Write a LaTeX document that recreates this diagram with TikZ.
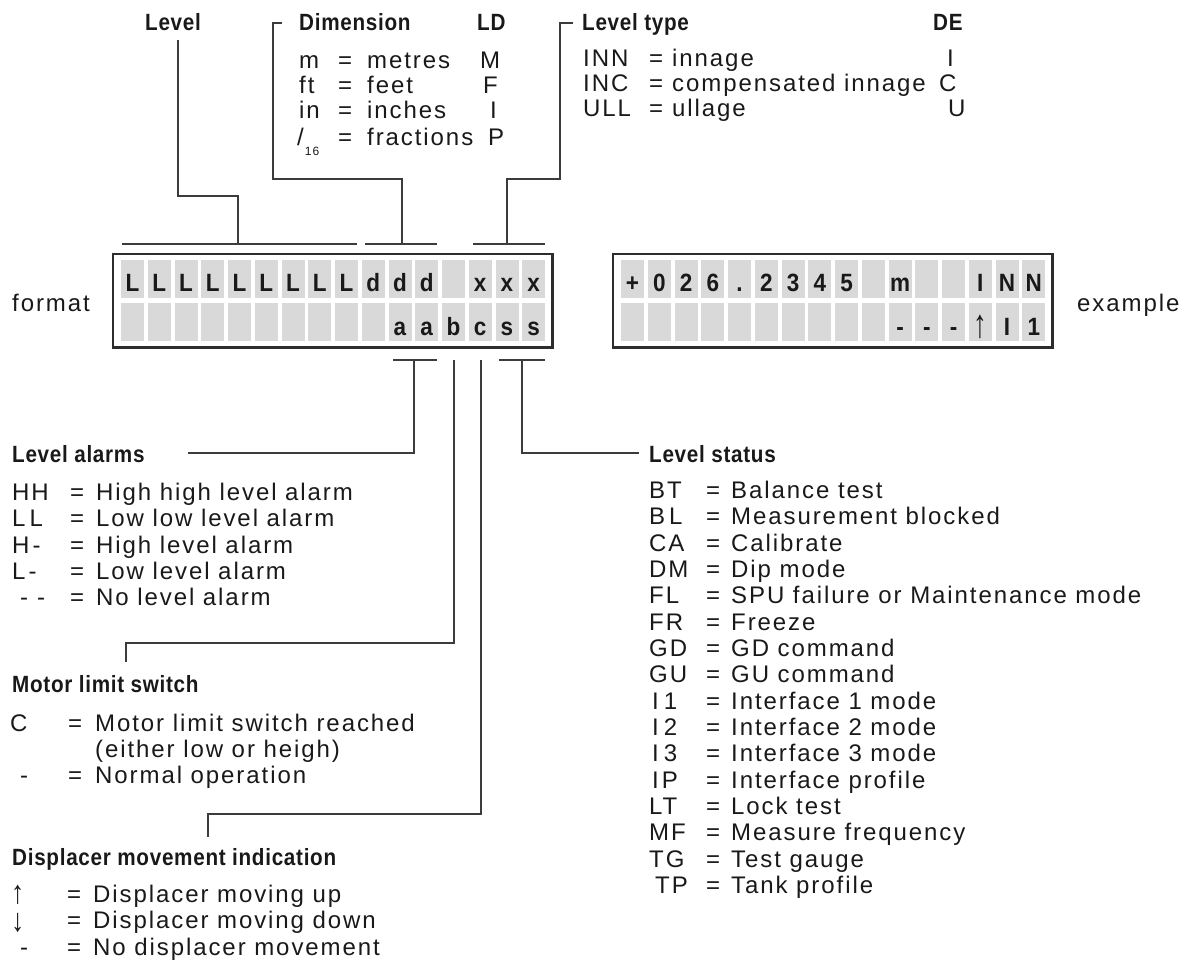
\documentclass[tikz,border=0pt]{standalone}
\usepackage{fontspec}
\usepackage{graphicx}
\setmainfont{Liberation Sans}
\newfontfamily\bodyfam[LetterSpace=8]{Liberation Sans}
\newfontfamily\hdfam[FakeStretch=0.88,LetterSpace=3]{Liberation Sans}
\newfontfamily\dispfam[FakeStretch=0.9]{Liberation Sans}
\newcommand\bodyfont{\bodyfam\fontsize{24}{26}\selectfont}
\newcommand\hdfont{\hdfam\bfseries\fontsize{23.5}{26}\selectfont}
\newcommand\dispfont{\dispfam\bfseries\fontsize{25}{26}\selectfont}
\newcommand\uparr{\raisebox{-1pt}{\scalebox{1.1}[1.35]{↑}}}
\newcommand\downarr{\raisebox{-3pt}{\scalebox{1.1}[1.35]{↓}}}
\definecolor{cellc}{RGB}{217,217,217}
\definecolor{framec}{RGB}{45,45,45}
\definecolor{linec}{RGB}{60,60,60}
\definecolor{txtc}{RGB}{25,25,25}
\tikzset{
  lbl/.style={anchor=base west, inner sep=0pt, font=\bodyfont, text=txtc},
  hd/.style={anchor=base west, inner sep=0pt, font=\hdfont, text=txtc},
  conn/.style={draw=linec, line width=1.4pt},
  cellbox/.style={fill=cellc, draw=none, minimum width=23pt, minimum height=37.5pt, inner sep=0pt},
  disp/.style={anchor=base, inner sep=0pt, font=\dispfont, text=txtc},
  dispthin/.style={anchor=base, inner sep=0pt, font=\bodyfam\fontsize{25}{26}\selectfont, text=txtc},
  frame/.style={draw=framec, line width=2.4pt, minimum width=439.6pt, minimum height=93.6pt, inner sep=0pt}
}
\begin{document}
\begin{tikzpicture}[x=1pt,y=-1pt]
\useasboundingbox (0,0) rectangle (1186,960);

% ---------- display frames and cells ----------
\node[frame] (fmt) at (332.5,300.5) {};
\node[frame] (exm) at (832.5,300.5) {};
\foreach \c in {0,...,15}{
  \node[cellbox] (fa\c) at ({132.5+\c*26.75},278.75) {};
  \node[cellbox] (fb\c) at ({132.5+\c*26.75},322) {};
  \node[cellbox] (ea\c) at ({632.5+\c*26.75},278.75) {};
  \node[cellbox] (eb\c) at ({632.5+\c*26.75},322) {};
}
\foreach \c/\t in {0/L,1/L,2/L,3/L,4/L,5/L,6/L,7/L,8/L,9/d,10/d,11/d,13/x,14/x,15/x}
  \node[disp] (fta\c) at ({132.5+\c*26.75},291) {\t};
\foreach \c/\t in {10/a,11/a,12/b,13/c,14/s,15/s}
  \node[disp] (ftb\c) at ({132.5+\c*26.75},335) {\t};
\foreach \c/\t in {0/+,1/0,2/2,3/6,4/.,5/2,6/3,7/4,8/5,10/m,13/I,14/N,15/N}
  \node[disp] (eta\c) at ({632.5+\c*26.75},291) {\t};
\foreach \c/\t in {10/-,11/-,12/-,14/I,15/1}
  \node[disp] (etb\c) at ({632.5+\c*26.75},335) {\t};
\node[dispthin] (etb13) at ({632.5+13*26.75},335) {\raisebox{-2pt}{\scalebox{1.1}[1.6]{↑}}};

\node[lbl] (fmtlbl) at (12,311) {format};
\node[lbl] (exmlbl) at (1077,311) {example};

% ---------- top: Level ----------
\node[hd] (lev) at (145,31) {Level};
\coordinate (levA) at (178,40);
\coordinate (levB) at (238,196);
\coordinate (levC) at (238,244);
\coordinate (levL) at (122,244);
\coordinate (levR) at (357,244);
\draw[conn] (levA) |- (levB) -- (levC);
\draw[conn] (levL) -- (levR);

% ---------- top: Dimension ----------
\node[hd] (dim) at (299,31) {Dimension};
\node[hd] (ld) at (477,31) {LD};
\coordinate (dimA) at (282,23);
\coordinate (dimB) at (273,179);
\coordinate (dimC) at (402,179);
\coordinate (dimD) at (402,244);
\coordinate (dimL) at (365,244);
\coordinate (dimR) at (437,244);
\draw[conn] (dimA) -| (dimB) -- (dimC) -- (dimD);
\draw[conn] (dimL) -- (dimR);
\node[lbl] (d1a) at (299,69) {m};
\node[lbl] (d1b) at (338,69) {=};
\node[lbl] (d1c) at (367,69) {metres};
\node[lbl] (d1d) at (480,69) {M};
\node[lbl] (d2a) at (299,94) {ft};
\node[lbl] (d2b) at (338,94) {=};
\node[lbl] (d2c) at (367,94) {feet};
\node[lbl] (d2d) at (483,94) {F};
\node[lbl] (d3a) at (299,119) {in};
\node[lbl] (d3b) at (338,119) {=};
\node[lbl] (d3c) at (367,119) {inches};
\node[lbl] (d3d) at (490,119) {I};
\node[lbl] (d4a) at (297,146) {/\hspace{1pt}\raisebox{-10pt}{\bodyfam\fontsize{12}{12}\selectfont 16}};
\node[lbl] (d4b) at (338,146) {=};
\node[lbl] (d4c) at (367,146) {fractions};
\node[lbl] (d4d) at (488,146) {P};

% ---------- top: Level type ----------
\node[hd] (lt) at (582,31) {Level type};
\node[hd] (de) at (933,31) {DE};
\coordinate (ltA) at (573,23);
\coordinate (ltB) at (560,179);
\coordinate (ltC) at (507,179);
\coordinate (ltD) at (507,244);
\coordinate (ltL) at (473,244);
\coordinate (ltR) at (545,244);
\draw[conn] (ltA) -| (ltB) -- (ltC) -- (ltD);
\draw[conn] (ltL) -- (ltR);
\node[lbl] (t1a) at (583,67) {INN};
\node[lbl] (t1b) at (649,67) {=};
\node[lbl] (t1c) at (672,67) {innage};
\node[lbl] (t1d) at (947,67) {I};
\node[lbl] (t2a) at (583,92) {INC};
\node[lbl] (t2b) at (649,92) {=};
\node[lbl] (t2c) at (672,92) {compensated innage};
\node[lbl] (t2d) at (939,92) {C};
\node[lbl] (t3a) at (583,117) {ULL};
\node[lbl] (t3b) at (649,117) {=};
\node[lbl] (t3c) at (672,117) {ullage};
\node[lbl] (t3d) at (948,117) {U};

% ---------- bottom connectors ----------
\coordinate (alL) at (393,360);
\coordinate (alR) at (437,360);
\coordinate (alT) at (414,360);
\coordinate (alE) at (188,453);
\draw[conn] (alL) -- (alR);
\draw[conn] (alT) |- (alE);

\coordinate (bT) at (454,360);
\coordinate (bC) at (126,643);
\coordinate (bE) at (126,662);
\draw[conn] (bT) |- (bC) -- (bE);

\coordinate (cT) at (481,360);
\coordinate (cC) at (208,814);
\coordinate (cE) at (208,837);
\draw[conn] (cT) |- (cC) -- (cE);

\coordinate (sL) at (499,360);
\coordinate (sR) at (545,360);
\coordinate (sT) at (522,360);
\coordinate (sE) at (639,453);
\draw[conn] (sL) -- (sR);
\draw[conn] (sT) |- (sE);

% ---------- Level alarms ----------
\node[hd] (la) at (12,462) {Level alarms};
\node[lbl] (la1a) at (12,500.5) {HH};
\node[lbl] (la2a) at (12,526.8) {L\hspace{4pt}L};
\node[lbl] (la3a) at (12,553.1) {H\hspace{3pt}-};
\node[lbl] (la4a) at (12,579.4) {L\hspace{3pt}-};
\node[lbl] (la5a) at (20,605.7) {-\hspace{9pt}-};
\foreach \y/\t [count=\i] in {500.5/High high level alarm,526.8/Low low level alarm,553.1/High level alarm,579.4/Low level alarm,605.7/No level alarm}{
  \node[lbl] (lae\i) at (70,\y) {=};
  \node[lbl] (lat\i) at (96,\y) {\t};
}

% ---------- Motor limit switch ----------
\node[hd] (ml) at (12,692) {Motor limit switch};
\node[lbl] (ml1a) at (10,731) {C};
\node[lbl] (ml1b) at (68,731) {=};
\node[lbl] (ml1c) at (95,731) {Motor limit switch reached};
\node[lbl] (ml2c) at (95,757) {(either low or heigh)};
\node[lbl] (ml3a) at (20,783) {-};
\node[lbl] (ml3b) at (68,783) {=};
\node[lbl] (ml3c) at (95,783) {Normal operation};

% ---------- Displacer movement ----------
\node[hd] (dp) at (12,865) {Displacer movement indication};
\node[lbl] (dp1a) at (11,902) {\uparr};
\node[lbl] (dp1b) at (67,902) {=};
\node[lbl] (dp1c) at (93,902) {Displacer moving up};
\node[lbl] (dp2a) at (11,928) {\downarr};
\node[lbl] (dp2b) at (67,928) {=};
\node[lbl] (dp2c) at (93,928) {Displacer moving down};
\node[lbl] (dp3a) at (20,955) {-};
\node[lbl] (dp3b) at (67,955) {=};
\node[lbl] (dp3c) at (93,955) {No displacer movement};

% ---------- Level status ----------
\node[hd] (ls) at (649,462) {Level status};
\foreach \x/\cd/\tx [count=\i from 0] in {
  649/BT/Balance test,
  649/B\hspace{4pt}L/Measurement blocked,
  649/CA/Calibrate,
  649/DM/Dip mode,
  649/F\hspace{2pt}L/SPU failure or Maintenance mode,
  649/FR/Freeze,
  649/GD/GD command,
  649/GU/GU command,
  652/I\hspace{5pt}1/Interface 1 mode,
  652/I\hspace{5pt}2/Interface 2 mode,
  652/I\hspace{5pt}3/Interface 3 mode,
  652/I\hspace{3pt}P/Interface profile,
  649/LT/Lock test,
  649/MF/Measure frequency,
  649/TG/Test gauge,
  655/TP/Tank profile}{
  \node[lbl] (lsa\i) at (\x,{498.5+\i*26.33}) {\cd};
  \node[lbl] (lse\i) at (706,{498.5+\i*26.33}) {=};
  \node[lbl] (lst\i) at (731,{498.5+\i*26.33}) {\tx};
}
\end{tikzpicture}
\end{document}
